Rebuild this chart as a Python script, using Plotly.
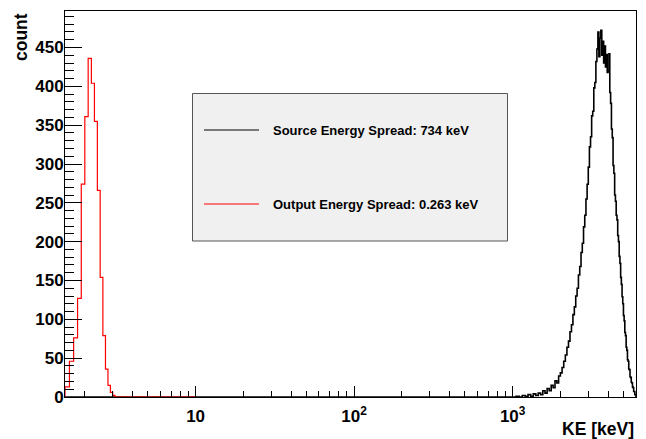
import numpy as np
import plotly.graph_objects as go

# ---------------- data ----------------
# Output (red) histogram: bins of 0.1 keV starting at 1.5 keV, up to 10 keV
red_x0 = 1.5
red_bin_width = 0.1
red_counts = [13, 46, 76, 127, 274, 361, 436, 404, 355, 266, 154, 79, 36, 15, 6, 2] + [0] * 69

# Source (black) histogram: empty below 1000 keV, then 50 keV bins up to 6000 keV
black_edges = [1.5] + list(range(1000, 6001, 50))
black_counts = [0,
    0, 1, 0, 2, 1, 3, 1, 4, 2, 5,
    3, 8, 5, 11, 8, 15, 12, 21, 18, 27,
    31, 38, 46, 54, 64, 72, 84, 93, 106, 116,
    130, 140, 157, 168, 186, 198, 219, 234, 255, 274,
    296, 322, 335, 362, 368, 398, 405, 432, 448, 470,
    438, 462, 472, 440, 458, 430, 452, 425, 441, 418,
    420, 442, 392, 378, 345, 334, 298, 288, 260, 252,
    234, 228, 208, 200, 181, 172, 154, 145, 129, 120,
    105, 98, 83, 79, 64, 60, 48, 46, 36, 35,
    26, 25, 19, 18, 13, 12, 7, 7, 3, 3,
]
assert len(black_counts) == len(black_edges) - 1

legend_labels = ["Source Energy Spread: 734 keV", "Output Energy Spread: 0.263 keV"]
x_tickvals = [10, 100, 1000]
x_ticktext = ["10", "10<sup>2</sup>", "10<sup>3</sup>"]
x_title = "KE [keV]"
y_title = "count"
x_range = [1.5, 6000]
y_range = [0, 497]

# ---------------- helpers ----------------
def step_points(edges, counts):
    xs, ys = [edges[0]], [0]
    for i, c in enumerate(counts):
        xs += [edges[i], edges[i + 1]]
        ys += [c, c]
    xs.append(edges[-1]); ys.append(0)
    return xs, ys

red_edges = [round(red_x0 + red_bin_width * k, 2) for k in range(len(red_counts) + 1)]

bx, by = step_points(black_edges, black_counts)
rx, ry = step_points(red_edges, red_counts)

FONT = "Liberation Sans, Arial, Helvetica, sans-serif"

fig = go.Figure()
fig.add_trace(go.Scatter(x=bx, y=by, mode="lines", line=dict(color="black", width=1.6),
                         showlegend=False, hoverinfo="skip"))
fig.add_trace(go.Scatter(x=rx, y=ry, mode="lines", line=dict(color="#ff0000", width=1.2),
                         showlegend=False, hoverinfo="skip"))

L, R, T, B = 65, 10, 11, 42
W, H = 646, 439
pw, ph = W - L - R, H - T - B

def px_x(p):
    return (p - L) / pw

def px_y(p):
    return (H - B - p) / ph

minor_x = [m * 10 ** k for k in range(0, 4) for m in range(2, 10)
           if x_range[0] <= m * 10 ** k <= x_range[1]]

fig.update_layout(
    width=W, height=H,
    margin=dict(l=L, r=R, t=T, b=B),
    paper_bgcolor="white", plot_bgcolor="white",
    font=dict(family=FONT, color="black"),
    xaxis=dict(
        type="log", range=[np.log10(x_range[0]), np.log10(x_range[1])],
        tickmode="array", tickvals=x_tickvals, ticktext=x_ticktext,
        ticks="inside", ticklen=11, tickwidth=1, tickcolor="black",
        minor=dict(tickmode="array", tickvals=minor_x, ticks="inside", ticklen=6,
                   tickwidth=1, tickcolor="black", showgrid=False),
        showgrid=False, zeroline=False,
        showline=True, linecolor="black", linewidth=1, mirror=True,
        ticklabelstandoff=4,
        tickfont=dict(family=FONT, size=17, weight="bold", color="black"),
    ),
    yaxis=dict(
        range=y_range, tickmode="linear", tick0=0, dtick=50,
        ticks="inside", ticklen=17, tickwidth=1, tickcolor="black",
        minor=dict(dtick=10, ticks="inside", ticklen=9, tickwidth=1, tickcolor="black", showgrid=False),
        showgrid=False, zeroline=False,
        showline=True, linecolor="black", linewidth=1, mirror=True,
        ticklabelstandoff=-3,
        tickfont=dict(family=FONT, size=17, weight="bold", color="black"),
    ),
)

# axis titles (ROOT style: right/top aligned)
fig.add_annotation(text=y_title, xref="paper", yref="paper", x=px_x(21), y=px_y(11),
                   xanchor="center", yanchor="top", textangle=-90, showarrow=False,
                   font=dict(family=FONT, size=17.5, weight="bold", color="black"))
fig.add_annotation(text=x_title, xref="paper", yref="paper", x=px_x(636), y=px_y(429),
                   xanchor="right", yanchor="middle", showarrow=False,
                   font=dict(family=FONT, size=17.5, weight="bold", color="black"))

# legend box
fig.add_shape(type="rect", xref="paper", yref="paper",
              x0=px_x(192.5), x1=px_x(507.5), y0=px_y(241), y1=px_y(93.5),
              fillcolor="#f0f0f0", line=dict(color="#555555", width=1), layer="above")
for label, color, ypx in zip(legend_labels, ["black", "#ff0000"], [130, 204]):
    fig.add_shape(type="line", xref="paper", yref="paper",
                  x0=px_x(204), x1=px_x(259), y0=px_y(ypx), y1=px_y(ypx),
                  line=dict(color=color, width=1), layer="above")
    fig.add_annotation(text=label, xref="paper", yref="paper", x=px_x(271), y=px_y(ypx),
                       xanchor="left", yanchor="middle", showarrow=False,
                       font=dict(family=FONT, size=13, weight="bold", color="black"))

fig.write_html("out.html")
